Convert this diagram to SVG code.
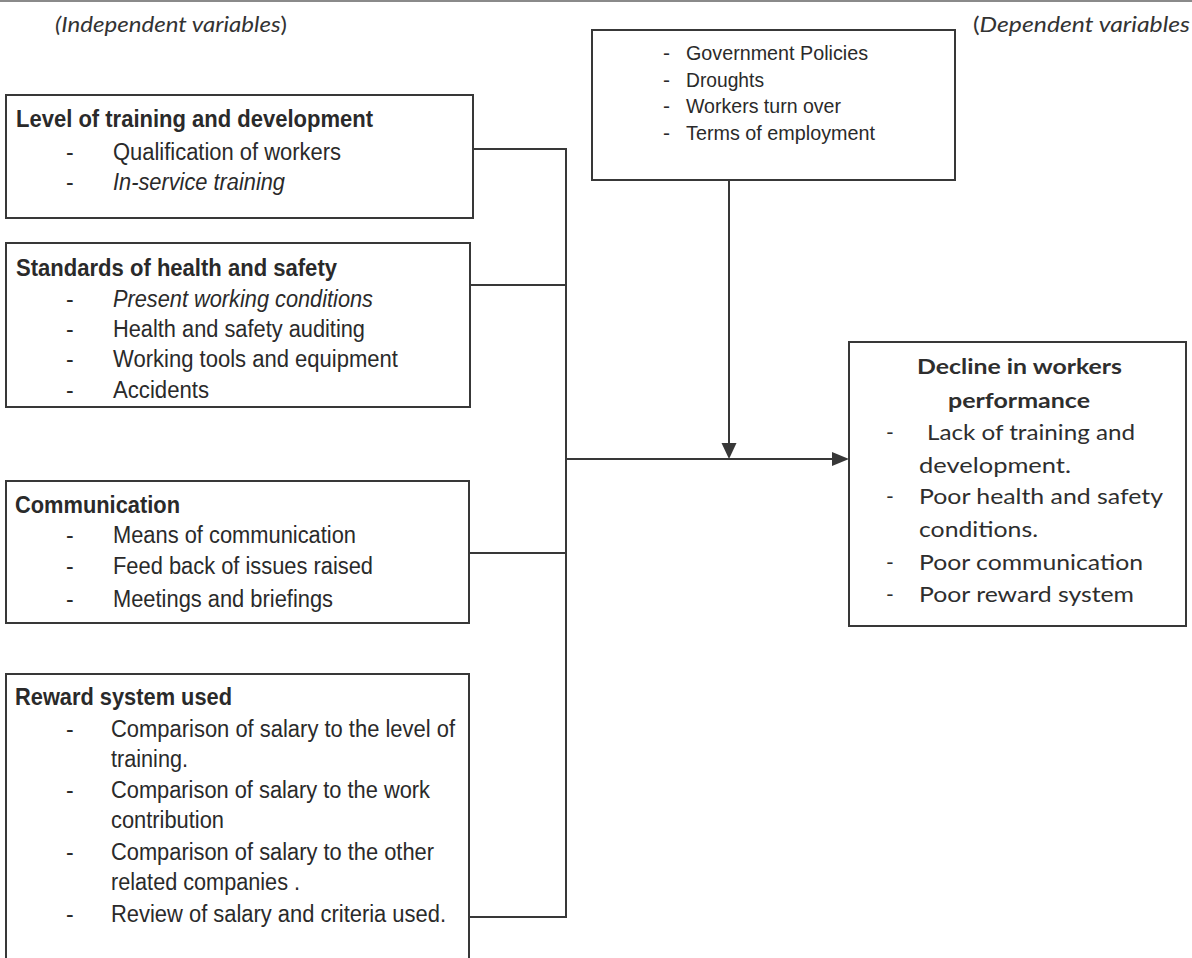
<svg xmlns="http://www.w3.org/2000/svg" width="1192" height="958" viewBox="0 0 1192 958">
  <style>
    .box { fill: none; stroke: #383838; stroke-width: 2; }
    .wire { fill: none; stroke: #383838; stroke-width: 2; }
    .head { fill: #383838; }
    .ar { font-family: "Liberation Sans", Arial, sans-serif; fill: #2a2a2a; }
    .ar-h { font-size: 23px; font-weight: bold; }
    .ar-i { font-size: 23px; }
    .ar-s { font-size: 21px; }
    .cal { font-family: Lato, "Open Sans", sans-serif; fill: #2e2e2e; }
    .cal-h { font-size: 21px; font-weight: bold; }
    .cal-i { font-size: 21px; }
    .lbl { font-family: Lato, "Open Sans", sans-serif; font-size: 22px; fill: #333; }
  </style>

  <!-- top edge rule -->
  <line x1="0" y1="1" x2="1192" y2="1" stroke="#8a8a8a" stroke-width="2"/>

  <!-- column headings -->
  <g id="heading-independent">
    <text class="lbl" x="55" y="32" textLength="232" lengthAdjust="spacingAndGlyphs"><tspan font-style="italic">(Independent variables</tspan>)</text>
  </g>
  <g id="heading-dependent">
    <text class="lbl" x="973" y="32" textLength="217" lengthAdjust="spacingAndGlyphs">(<tspan font-style="italic">Dependent variables</tspan></text>
  </g>

  <!-- intervening factors -->
  <g id="node-intervening">
    <rect class="box" x="592" y="30" width="363" height="150"/>
    <g class="ar ar-s">
      <text x="663" y="60">-</text>
      <text x="686" y="60" textLength="182" lengthAdjust="spacingAndGlyphs">Government Policies</text>
      <text x="663" y="87">-</text>
      <text x="686" y="87" textLength="78" lengthAdjust="spacingAndGlyphs">Droughts</text>
      <text x="663" y="113">-</text>
      <text x="686" y="113" textLength="155" lengthAdjust="spacingAndGlyphs">Workers turn over</text>
      <text x="663" y="140">-</text>
      <text x="686" y="140" textLength="189" lengthAdjust="spacingAndGlyphs">Terms of employment</text>
    </g>
  </g>

  <!-- training and development -->
  <g id="node-training">
    <rect class="box" x="6" y="95" width="467" height="123"/>
    <text class="ar ar-h" x="16" y="127" textLength="357" lengthAdjust="spacingAndGlyphs">Level of training and development</text>
    <g class="ar ar-i">
      <text x="66" y="160">-</text>
      <text x="113" y="160" textLength="228" lengthAdjust="spacingAndGlyphs">Qualification of workers</text>
      <text x="66" y="190">-</text>
      <text x="113" y="190" font-style="italic" textLength="172" lengthAdjust="spacingAndGlyphs">In-service training</text>
    </g>
  </g>

  <!-- health and safety -->
  <g id="node-health">
    <rect class="box" x="6" y="243" width="464" height="164"/>
    <text class="ar ar-h" x="16" y="276" textLength="321" lengthAdjust="spacingAndGlyphs">Standards of health and safety</text>
    <g class="ar ar-i">
      <text x="66" y="307">-</text>
      <text x="113" y="307" font-style="italic" textLength="260" lengthAdjust="spacingAndGlyphs">Present working conditions</text>
      <text x="66" y="337">-</text>
      <text x="113" y="337" textLength="252" lengthAdjust="spacingAndGlyphs">Health and safety auditing</text>
      <text x="66" y="367">-</text>
      <text x="113" y="367" textLength="285" lengthAdjust="spacingAndGlyphs">Working tools and equipment</text>
      <text x="66" y="398">-</text>
      <text x="113" y="398" textLength="96" lengthAdjust="spacingAndGlyphs">Accidents</text>
    </g>
  </g>

  <!-- communication -->
  <g id="node-communication">
    <rect class="box" x="6" y="481" width="463" height="142"/>
    <text class="ar ar-h" x="15" y="513" textLength="165" lengthAdjust="spacingAndGlyphs">Communication</text>
    <g class="ar ar-i">
      <text x="66" y="543">-</text>
      <text x="113" y="543" textLength="243" lengthAdjust="spacingAndGlyphs">Means of communication</text>
      <text x="66" y="574">-</text>
      <text x="113" y="574" textLength="260" lengthAdjust="spacingAndGlyphs">Feed back of issues raised</text>
      <text x="66" y="607">-</text>
      <text x="113" y="607" textLength="220" lengthAdjust="spacingAndGlyphs">Meetings and briefings</text>
    </g>
  </g>

  <!-- reward system -->
  <g id="node-reward">
    <path class="box" d="M6 970 V674 H469 V970"/>
    <text class="ar ar-h" x="15" y="705" textLength="217" lengthAdjust="spacingAndGlyphs">Reward system used</text>
    <g class="ar ar-i">
      <text x="66" y="737">-</text>
      <text x="111" y="737" textLength="344" lengthAdjust="spacingAndGlyphs">Comparison of salary to the level of</text>
      <text x="111" y="767" textLength="77" lengthAdjust="spacingAndGlyphs">training.</text>
      <text x="66" y="798">-</text>
      <text x="111" y="798" textLength="319" lengthAdjust="spacingAndGlyphs">Comparison of salary to the work</text>
      <text x="111" y="828" textLength="113" lengthAdjust="spacingAndGlyphs">contribution</text>
      <text x="66" y="860">-</text>
      <text x="111" y="860" textLength="323" lengthAdjust="spacingAndGlyphs">Comparison of salary to the other</text>
      <text x="111" y="890" textLength="189" lengthAdjust="spacingAndGlyphs">related companies .</text>
      <text x="66" y="922">-</text>
      <text x="111" y="922" textLength="335" lengthAdjust="spacingAndGlyphs">Review of salary and criteria used.</text>
    </g>
  </g>

  <!-- outcome -->
  <g id="node-decline">
    <rect class="box" x="849" y="342" width="337" height="284"/>
    <g class="cal cal-h">
      <text x="917" y="374" textLength="205" lengthAdjust="spacingAndGlyphs">Decline in workers</text>
      <text x="948" y="408" textLength="142" lengthAdjust="spacingAndGlyphs">performance</text>
    </g>
    <g class="cal cal-i">
      <text x="886" y="440">-</text>
      <text x="927" y="440" textLength="208" lengthAdjust="spacingAndGlyphs">Lack of training and</text>
      <text x="919" y="473" textLength="152" lengthAdjust="spacingAndGlyphs">development.</text>
      <text x="886" y="504">-</text>
      <text x="919" y="504" textLength="244" lengthAdjust="spacingAndGlyphs">Poor health and safety</text>
      <text x="919" y="537" textLength="119" lengthAdjust="spacingAndGlyphs">conditions.</text>
      <text x="886" y="570">-</text>
      <text x="919" y="570" textLength="224" lengthAdjust="spacingAndGlyphs">Poor communication</text>
      <text x="886" y="602">-</text>
      <text x="919" y="602" textLength="215" lengthAdjust="spacingAndGlyphs">Poor reward system</text>
    </g>
  </g>

  <!-- connectors -->
  <g id="connectors">
    <path class="wire" d="M473 149 H566"/>
    <path class="wire" d="M470 285 H566"/>
    <path class="wire" d="M469 553 H566"/>
    <path class="wire" d="M469 917 H566"/>
    <path class="wire" d="M566 148 V918"/>
    <path class="wire" d="M566 459 H834"/>
    <polygon class="head" points="849,459 832,452 832,466"/>
    <path class="wire" d="M729 180 V445"/>
    <polygon class="head" points="729,459 721.5,443 736.5,443"/>
  </g>
</svg>
